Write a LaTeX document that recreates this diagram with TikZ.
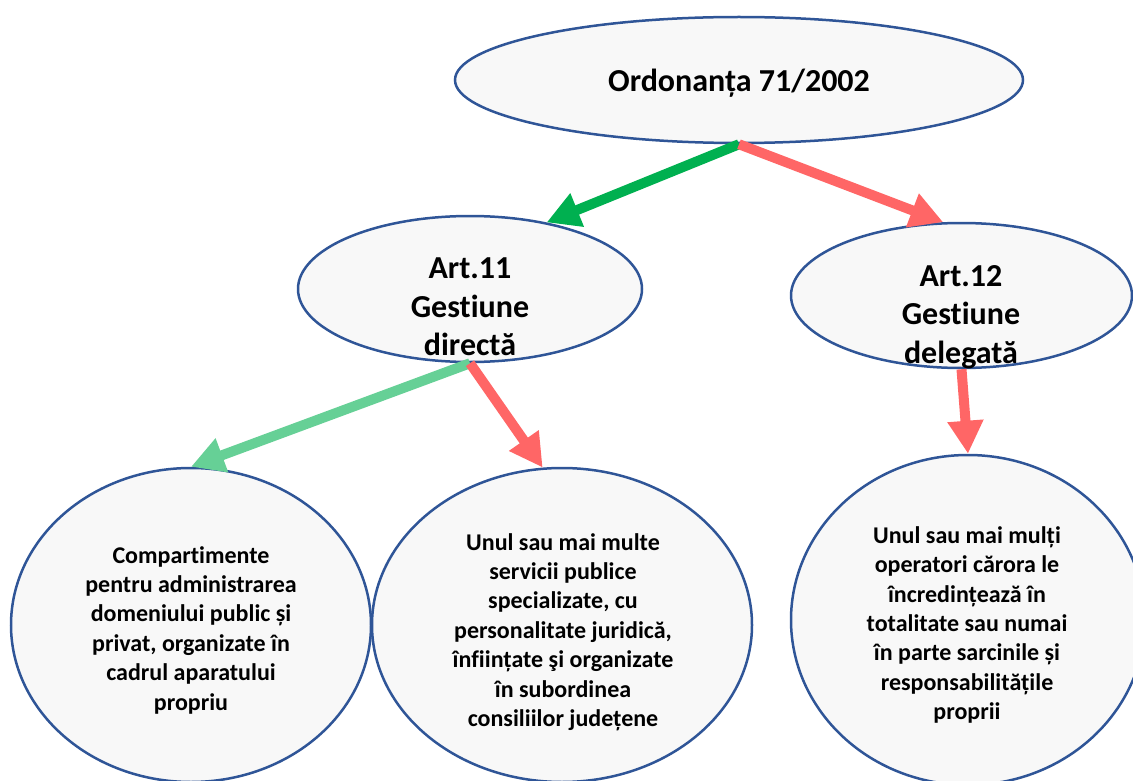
\documentclass[tikz,border=0pt]{standalone}
\usepackage{fontspec}
\setmainfont{Carlito}[Ligatures={NoCommon}]
\usetikzlibrary{arrows.meta,shapes.geometric}
\definecolor{bord}{HTML}{2F5597}
\definecolor{fillg}{HTML}{F8F8F8}
\definecolor{arrred}{HTML}{FF6666}
\definecolor{arrgreen}{HTML}{00B050}
\definecolor{arrlgreen}{HTML}{66D096}
\begin{document}
\begin{tikzpicture}[x=1pt,y=-1pt,
  oval/.style={ellipse, draw=bord, line width=2.5pt, fill=fillg, inner sep=0pt},
  bigtxt/.style={font=\bfseries\fontsize{32}{38.5}\selectfont, align=center, inner sep=0pt},
  smalltxt/.style={font=\bfseries\fontsize{24}{29.4}\selectfont, align=center, inner sep=0pt},
  conn/.style={line width=10pt, -{Triangle[length=33pt,width=34pt]}}
]
\useasboundingbox (0,0) rectangle (1133,781);
\clip (0,0) rectangle (1133,781);
\node[oval, minimum width=568pt, minimum height=126pt] (top) at (739,80) {};
\node[oval, minimum width=344pt, minimum height=146pt] (art11) at (470,289) {};
\node[oval, minimum width=341pt, minimum height=145pt] (art12) at (961.5,295.5) {};
\node[oval, minimum width=360pt, minimum height=314pt] (bl) at (191,625) {};
\node[oval, minimum width=380pt, minimum height=314pt] (bm) at (562,625) {};
\node[oval, minimum width=354pt, minimum height=330pt] (br) at (968,620) {};

\node[bigtxt] (toptxt) at (739,83) {Ordonanța 71/2002};
\node[bigtxt] (art11txt) at (470,307) {Art.11\\Gestiune\\directă};
\node[bigtxt] (art12txt) at (961,317) {Art.12\\Gestiune\\delegată};
\node[smalltxt] (bltxt) at (191,630) {Compartimente\\pentru administrarea\\domeniului public și\\privat, organizate în\\cadrul aparatului\\propriu};
\node[smalltxt] (bmtxt) at (563,632) {Unul sau mai multe\\servicii publice\\specializate, cu\\personalitate juridică,\\înființate şi organizate\\în subordinea\\consiliilor județene};
\node[smalltxt] (brtxt) at (967,625) {Unul sau mai mulți\\operatori cărora le\\încredințează în\\totalitate sau numai\\în parte sarcinile și\\responsabilitățile\\proprii};

\draw[conn, arrgreen] (top.south) -- (art11.41.7);
\draw[conn, arrred] (top.south) -- (art12.104.7);
\draw[conn, arrlgreen] (art11.south) -- (bl.north);
\draw[conn, arrred] (art11.south) -- (bm.97);
\draw[conn, arrred] (art12.south) -- (br.north);
\end{tikzpicture}
\end{document}
